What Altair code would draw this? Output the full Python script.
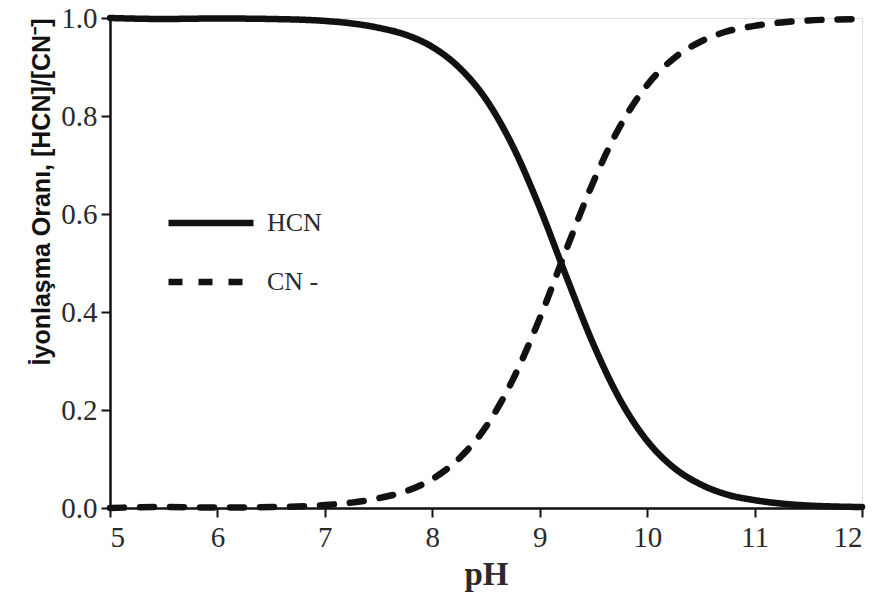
import altair as alt
import pandas as pd

ph = [5.0, 5.5, 6.0, 6.5, 7.0, 7.25, 7.5, 7.75, 8.0, 8.25, 8.5, 8.75, 9.0, 9.25,
      9.5, 9.75, 10.0, 10.25, 10.5, 10.75, 11.0, 11.25, 11.5, 11.75, 12.0]
hcn = [1.0, 0.998, 0.999, 0.998, 0.994, 0.989, 0.980, 0.966, 0.941, 0.899, 0.834,
       0.738, 0.613, 0.471, 0.334, 0.220, 0.137, 0.082, 0.048, 0.027, 0.016,
       0.009, 0.005, 0.003, 0.002]
cn = [0.0, 0.002, 0.001, 0.002, 0.006, 0.011, 0.020, 0.034, 0.059, 0.101, 0.166,
      0.262, 0.387, 0.529, 0.666, 0.780, 0.863, 0.918, 0.952, 0.973, 0.984,
      0.991, 0.995, 0.997, 0.998]
series = ["HCN", "CN -"]

rows = []
for i, p in enumerate(ph):
    rows.append({"pH": p, "v": hcn[i], "s": series[0], "o": i})
    rows.append({"pH": p, "v": cn[i], "s": series[1], "o": i})
df = pd.DataFrame(rows)

serif = "Liberation Serif, Times New Roman, serif"
sans = "Liberation Sans, Arial, sans-serif"

chart = alt.Chart(df).mark_line(color="#111111", strokeWidth=6.5, strokeCap="round", interpolate="monotone").encode(
    x=alt.X("pH:Q", scale=alt.Scale(domain=[5, 12], nice=False, zero=False),
            axis=alt.Axis(title="pH", values=[5, 6, 7, 8, 9, 10, 11, 12], format="d",
                          grid=False, domainColor="#111", domainWidth=2.5,
                          tickColor="#111", tickWidth=2, tickSize=9,
                          labelFont=serif, labelFontSize=29, labelColor="#2a2a2a",
                          labelPadding=6,
                          titleFont=serif, titleFontSize=33, titleFontWeight="bold",
                          titleColor="#2a2a2a", titlePadding=6)),
    y=alt.Y("v:Q", scale=alt.Scale(domain=[0, 1], nice=False),
            axis=alt.Axis(title="İyonlaşma Oranı, [HCN]/[CN⁻]", values=[0, 0.2, 0.4, 0.6, 0.8, 1.0],
                          format=".1f", grid=False, domainColor="#111", domainWidth=2.5,
                          tickColor="#111", tickWidth=2, tickSize=9,
                          labelFont=serif, labelFontSize=29, labelColor="#2a2a2a",
                          labelPadding=4,
                          titleFont=sans, titleFontSize=25, titleFontWeight="bold",
                          titleColor="#111", titleAnchor="end", titlePadding=6)),
    strokeDash=alt.StrokeDash("s:N", scale=alt.Scale(domain=series, range=[[1, 0], [14, 16]]),
                              legend=alt.Legend(title=None, orient="none", legendX=55, legendY=159,
                                                symbolType="stroke", symbolSize=7225,
                                                symbolStrokeWidth=6.5, symbolStrokeColor="#111",
                                                labelFont=serif, labelFontSize=26, labelColor="#2a2a2a",
                                                labelOffset=10, rowPadding=-26, padding=0)),
    order="o:Q",
).properties(
    width=752, height=490,
    autosize=alt.AutoSizeParams(type="none"),
    padding={"left": 110, "top": 18, "right": 17, "bottom": 99},
).configure_view(stroke="#111", strokeWidth=2.5).configure(background="white")

chart.save("out.html", embed_options={"renderer": "svg", "actions": False})
